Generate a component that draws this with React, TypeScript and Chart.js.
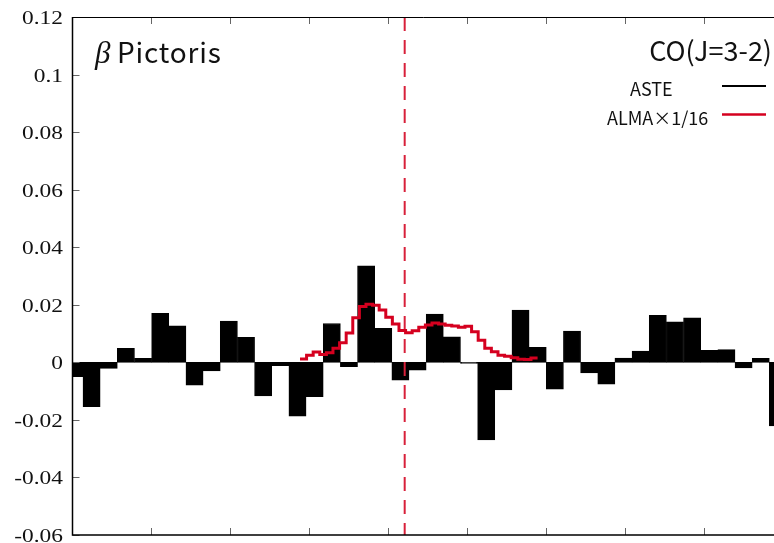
import React, { useEffect, useRef } from 'react';
import { Chart, registerables } from 'chart.js';

Chart.register(...registerables);

// ASTE spectrum (channel values), channel centres start at ASTE_V_START with width ASTE_DV
const asteFlux = [
  -0.0050, -0.0154, -0.0021, 0.0049, 0.0014, 0.0170, 0.0127, -0.0079, -0.0030, 0.0143,
  0.0087, -0.0117, -0.0012, -0.0187, -0.0119, 0.0135, -0.0015, 0.0335, 0.0118, -0.0062,
  -0.0027, 0.0168, 0.0089, -0.0004, -0.0270, -0.0096, 0.0182, 0.0052, -0.0093, 0.0109,
  -0.0037, -0.0076, 0.0015, 0.0039, 0.0163, 0.0141, 0.0155, 0.0042, 0.0044, -0.0019,
  0.0014, -0.0221,
];
const ASTE_V_START = 0.0486;
const ASTE_DV = 0.4344;

// ALMA spectrum scaled by 1/16, channel left edges start at ALMA_V_START with width ALMA_DV
const almaFlux = [
  0.0012, 0.0025, 0.0036, 0.0027, 0.0033, 0.0049, 0.0068, 0.0102, 0.0155, 0.0194,
  0.0202, 0.0198, 0.0182, 0.0157, 0.0133, 0.0111, 0.0103, 0.0110, 0.0122, 0.0130,
  0.0137, 0.0133, 0.0129, 0.0126, 0.0122, 0.0125, 0.0106, 0.0077, 0.0049, 0.0037,
  0.0025, 0.0021, 0.0016, 0.0011, 0.0010, 0.0015,
];
const ALMA_V_START = 5.759;
const ALMA_DV = 0.1671;

const SYSTEMIC_V = 8.41;

const X_MIN = 0;
const X_MAX = 17.76;
const Y_MIN = -0.06;
const Y_MAX = 0.12;

const yTickValues = [0.12, 0.1, 0.08, 0.06, 0.04, 0.02, 0, -0.02, -0.04, -0.06];
const yTickLabels = ['0.12', '0.1', '0.08', '0.06', '0.04', '0.02', '0', '-0.02', '-0.04', '-0.06'];
const xTickValues = [2, 4, 6, 8, 10, 12, 14, 16];

const titleGreek = 'β';
const titleName = 'Pictoris';
const lineName = 'CO(J=3-2)';
const seriesNames = ['ASTE', 'ALMA×1/16'];

const RED = '#d5001f';
const SANS = '"Noto Sans CJK JP", "Noto Sans", sans-serif';

const framePlugin = {
  id: 'framePlugin',
  afterDraw(chart: any) {
    const { ctx, chartArea } = chart;
    const xs = chart.scales.x;
    const ys = chart.scales.y;
    const { left, right, top, bottom } = chartArea;
    ctx.save();

    // ticks (inward)
    ctx.strokeStyle = '#666';
    ctx.lineWidth = 1;
    ctx.beginPath();
    for (const v of yTickValues) {
      const y = Math.round(ys.getPixelForValue(v)) + 0.5;
      ctx.moveTo(left, y);
      ctx.lineTo(left + 7, y);
    }
    for (const v of xTickValues) {
      const x = Math.round(xs.getPixelForValue(v)) + 0.5;
      ctx.moveTo(x, bottom);
      ctx.lineTo(x, bottom - 7);
      ctx.moveTo(x, top);
      ctx.lineTo(x, top + 7);
    }
    ctx.stroke();

    // frame
    ctx.strokeStyle = '#000';
    ctx.lineWidth = 1.5;
    ctx.beginPath();
    ctx.moveTo(left, top);
    ctx.lineTo(left, bottom);
    ctx.lineTo(right, bottom);
    ctx.stroke();
    ctx.lineWidth = 1;
    ctx.beginPath();
    ctx.moveTo(left, top + 0.5);
    ctx.lineTo(right, top + 0.5);
    ctx.stroke();

    // y tick labels (serif, stretched like the original)
    ctx.fillStyle = '#111';
    ctx.font = '18px "Liberation Serif", "Times New Roman", serif';
    ctx.textAlign = 'right';
    ctx.textBaseline = 'alphabetic';
    yTickValues.forEach((v, i) => {
      const y = ys.getPixelForValue(v) + 7;
      ctx.save();
      ctx.translate(63, y);
      ctx.scale(1.3, 1);
      ctx.fillText(yTickLabels[i], 0, 0);
      ctx.restore();
    });

    // title
    ctx.textAlign = 'left';
    ctx.font = 'italic 31px "Liberation Serif", serif';
    ctx.fillText(titleGreek, 95, 63);
    ctx.font = `28px ${SANS}`;
    (ctx as any).letterSpacing = '0.8px';
    ctx.fillText(titleName, 117, 63);
    (ctx as any).letterSpacing = '0px';

    // line / legend
    ctx.textAlign = 'right';
    ctx.font = `27px ${SANS}`;
    ctx.fillText(lineName, 772, 61);

    ctx.textAlign = 'left';
    ctx.font = `18px ${SANS}`;
    ctx.fillText(seriesNames[0], 630, 96);
    ctx.fillText(seriesNames[1], 607, 125);

    ctx.lineWidth = 2;
    ctx.strokeStyle = '#000';
    ctx.beginPath();
    ctx.moveTo(722, 86);
    ctx.lineTo(766, 86);
    ctx.stroke();
    ctx.lineWidth = 2.5;
    ctx.strokeStyle = RED;
    ctx.beginPath();
    ctx.moveTo(722, 114.5);
    ctx.lineTo(766, 114.5);
    ctx.stroke();

    ctx.restore();
  },
};

export default function App() {
  const canvasRef = useRef<HTMLCanvasElement | null>(null);

  useEffect(() => {
    const canvas = canvasRef.current;
    if (!canvas) return;

    const asteData = asteFlux.map((v, i) => ({ x: ASTE_V_START + i * ASTE_DV, y: v }));
    const almaData = almaFlux.map((v, i) => ({ x: ALMA_V_START + i * ALMA_DV, y: v }));
    almaData.push({ x: ALMA_V_START + almaFlux.length * ALMA_DV, y: almaFlux[almaFlux.length - 1] });
    const sysData = [
      { x: SYSTEMIC_V, y: Y_MAX },
      { x: SYSTEMIC_V, y: Y_MIN },
    ];

    const chart = new Chart(canvas, {
      type: 'bar',
      data: {
        datasets: [
          {
            type: 'line',
            label: seriesNames[1],
            data: almaData,
            borderColor: RED,
            borderWidth: 3,
            pointRadius: 0,
            stepped: 'before',
            fill: false,
            order: 1,
          } as any,
          {
            type: 'line',
            label: 'systemic',
            data: sysData,
            borderColor: '#d8203a',
            borderWidth: 2,
            borderDash: [14, 9],
            pointRadius: 0,
            fill: false,
            order: 2,
          } as any,
          {
            type: 'bar',
            label: seriesNames[0],
            data: asteData,
            backgroundColor: '#000',
            borderColor: '#000',
            borderWidth: 1,
            borderSkipped: false,
            barPercentage: 1,
            categoryPercentage: 1,
            order: 3,
          } as any,
        ],
      },
      options: {
        responsive: false,
        animation: false,
        devicePixelRatio: 1,
        layout: { padding: { left: 72.5, top: 17, right: 0, bottom: 8 } },
        plugins: { legend: { display: false }, tooltip: { enabled: false } },
        scales: {
          x: { type: 'linear', min: X_MIN, max: X_MAX, offset: false, display: false },
          y: { type: 'linear', min: Y_MIN, max: Y_MAX, display: false },
        },
      },
      plugins: [framePlugin],
    } as any);

    return () => chart.destroy();
  }, []);

  return (
    <div style={{ position: 'fixed', left: 0, top: 0, width: 774, height: 543, background: '#fff' }}>
      <canvas ref={canvasRef} width={774} height={543} style={{ display: 'block' }} />
    </div>
  );
}
